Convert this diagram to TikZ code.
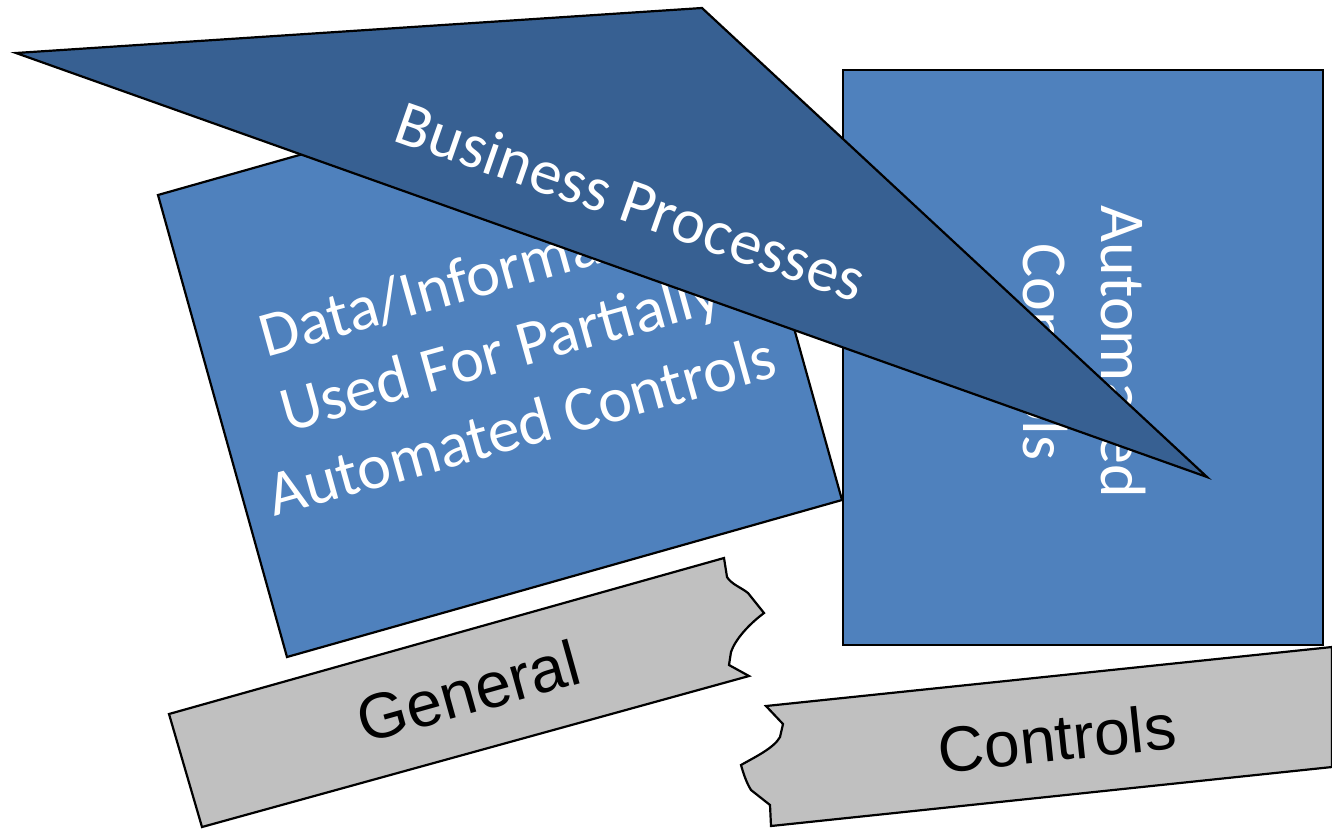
\documentclass[tikz,border=0pt]{standalone}
\usepackage{fontspec}
\setmainfont{Carlito}
\newfontfamily\arialfont{Liberation Sans}
\definecolor{accentblue}{HTML}{4F81BD}
\definecolor{darkblue}{HTML}{376092}
\definecolor{tapegray}{HTML}{C0C0C0}
\begin{document}
\begin{tikzpicture}[x=1pt,y=-1pt,line join=miter,
  shapeline/.style={draw=black,line width=2.2pt},
  bluetext/.style={text=white,align=center,font=\fontsize{64}{78}\selectfont,inner sep=0pt},
  graytext/.style={text=black,font=\arialfont\fontsize{64}{72}\selectfont,inner sep=0pt}]
\useasboundingbox (0,0) rectangle (1332,828);
% rotated data box
\draw[shapeline,fill=accentblue] (158,195) -- (713,38) -- (842,500) -- (287,657) -- cycle;
\node[bluetext,rotate=15.6] (data) at (500,350) {Data/Information\\Used For Partially\\Automated Controls};
% right box
\draw[shapeline,fill=accentblue] (843,70) rectangle (1323,645);
\node[bluetext,rotate=-90] (auto) at (1084,352) {Automated\\Controls};
% triangle
\draw[shapeline,fill=darkblue] (16,53) -- (702,8) -- (1207,477) -- cycle;
\node[bluetext,rotate=-19.3] (bp) at (631,201) {Business Processes};
% General tape
\draw[shapeline,fill=tapegray] (169,714) -- (724,558) -- (727,577)
  .. controls (731,584) and (742,588) .. (748,593) -- (764,613)
  .. controls (748,625) and (735,640) .. (731,652) -- (729,665) -- (749,676)
  -- (202,827) -- cycle;
\node[graytext,rotate=15.6] (general) at (468,691) {General};
% Controls tape
\draw[shapeline,fill=tapegray] (766,706) -- (1332,647) -- (1332,767) -- (771,826)
  -- (770,805) -- (751,790) .. controls (746,782) and (743,772) .. (741,765)
  .. controls (755,757) and (774,748) .. (780,737) -- (783,724) -- cycle;
\node[graytext,rotate=6] (controls) at (1057,738) {Controls};
\end{tikzpicture}
\end{document}
